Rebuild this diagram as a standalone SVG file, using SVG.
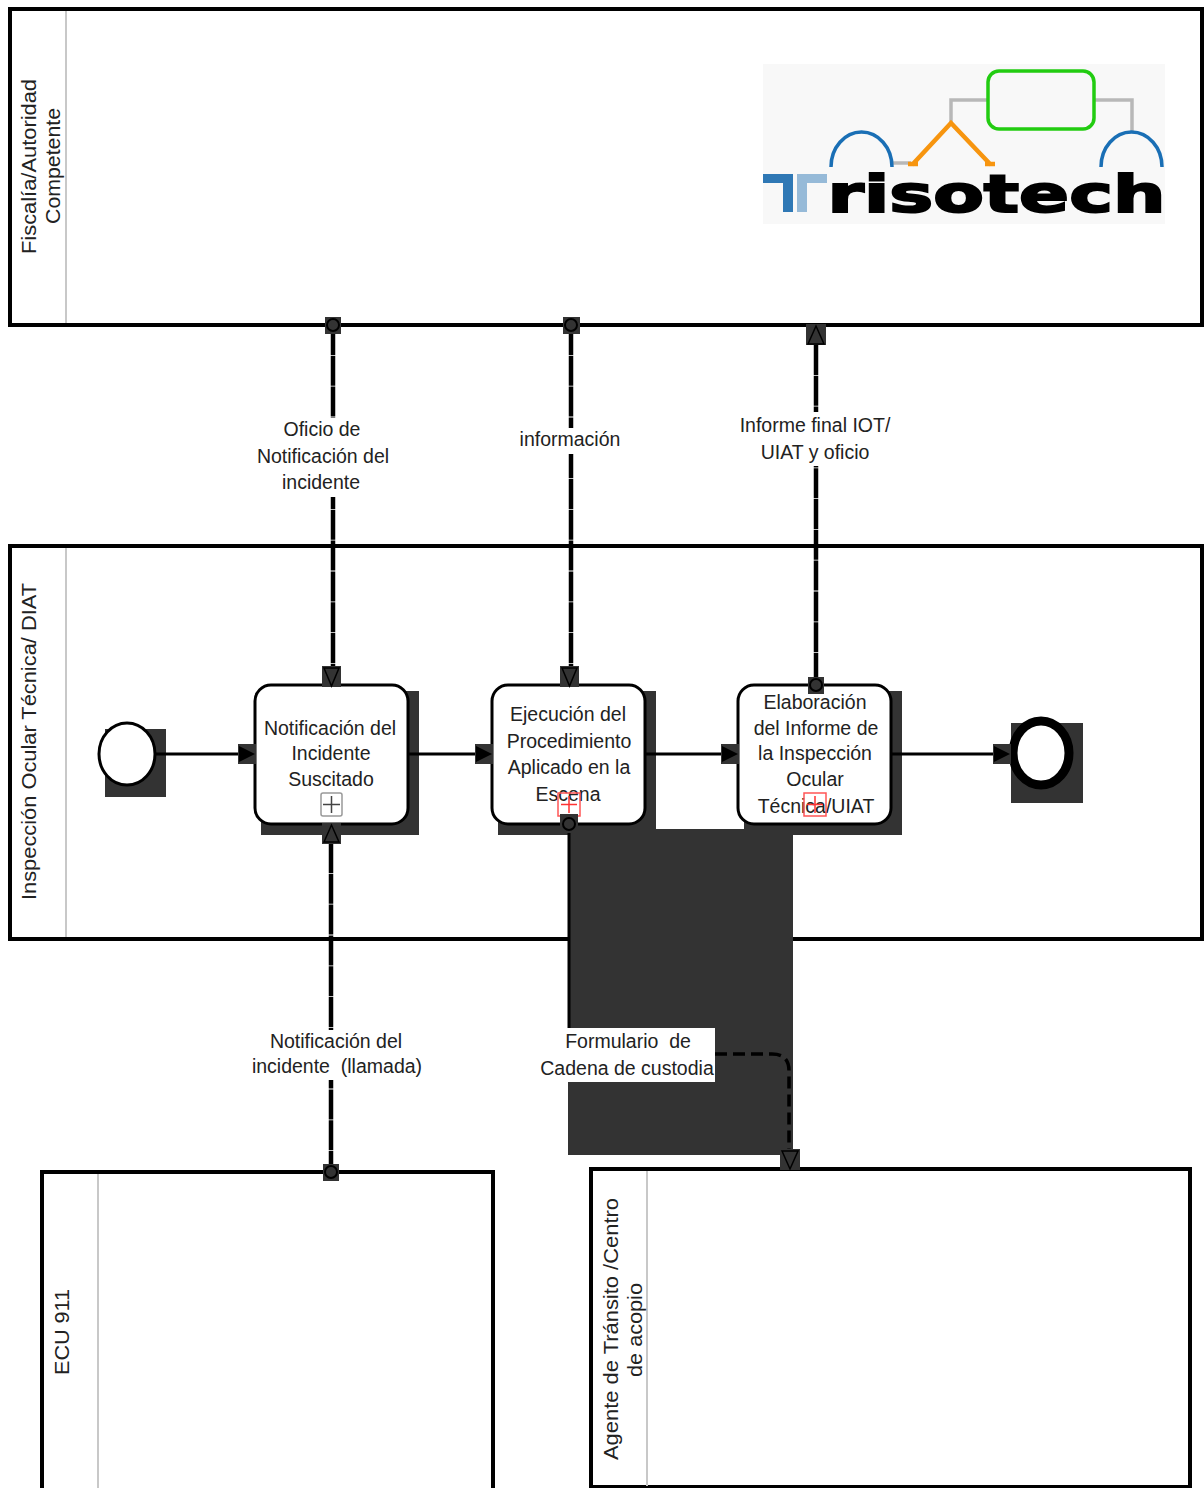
<svg xmlns="http://www.w3.org/2000/svg" width="1204" height="1488" viewBox="0 0 1204 1488">
<style>
text{font-family:"Liberation Sans",Arial,sans-serif;font-size:19.5px;fill:#222;text-anchor:middle}
.pool{fill:#fff;stroke:#000;stroke-width:4}
.div{stroke:#c8c8c8;stroke-width:2;fill:none}
.shadow{fill:#333}
.task{fill:#fff;stroke:#000;stroke-width:3}
.seq{stroke:#000;stroke-width:3;fill:none}
.msg{stroke:#000;stroke-width:4.5;fill:none;stroke-dasharray:30 0.8}
.dash{stroke:#000;stroke-width:3.5;fill:none;stroke-dasharray:12 6}
.box{fill:#333}
.tri{fill:none;stroke:#000;stroke-width:1.5}
.solid{fill:#000}
.dot{fill:#333;stroke:#000;stroke-width:2}
.exp{fill:none;stroke:#999;stroke-width:1.5}
.expr{fill:none;stroke:#f55;stroke-width:1.5}
.lg{fill:none;stroke-linecap:butt}
</style>
<rect width="1204" height="1488" fill="#fff"/>

<g id="pool-fiscalia">
<rect class="pool" x="10" y="9" width="1192" height="316"/>
<path class="div" d="M66 11V323"/>
<text transform="translate(36 166.500) rotate(-90)" textLength="175" lengthAdjust="spacingAndGlyphs">Fiscalía/Autoridad</text>
<text transform="translate(60 166) rotate(-90)" textLength="116" lengthAdjust="spacingAndGlyphs">Competente</text>
</g>

<g id="logo">
<rect x="763" y="64" width="402" height="160" fill="#f8f8f8"/>
<path class="lg" stroke="#b8b8b8" stroke-width="3.5" d="M988 100H951V122M1095 100H1132V131M892 163H911"/>
<rect x="988" y="71" width="106" height="58" rx="11" fill="none" stroke="#22cc11" stroke-width="3.5"/>
<path class="lg" stroke="#f7950f" stroke-width="4.5" d="M912 165L951 123L991 165M908 164H918M985 164H995"/>
<path class="lg" stroke="#1a6fb5" stroke-width="3.5" d="M831 167A30.500 35 0 0 1 892 167M1101 167A30.500 35 0 0 1 1162 167"/>
<path fill="#2f78b5" d="M763 174H793V212H783V183H763Z"/>
<path fill="#96bad8" d="M797 174H827V183H807V212H797Z"/>
<text x="996.500" y="212" textLength="338" lengthAdjust="spacingAndGlyphs" style="font-family:'DejaVu Sans',sans-serif;font-weight:bold;font-size:52px;fill:#000;stroke:#000;stroke-width:2">risotech</text>
</g>

<g id="pool-iot">
<rect class="pool" x="10" y="546" width="1192" height="393"/>
<path class="div" d="M66 548V937"/>
<text transform="translate(36 741.500) rotate(-90)" textLength="317" lengthAdjust="spacingAndGlyphs">Inspección Ocular Técnica/ DIAT</text>
</g>

<g id="pool-ecu">
<path class="pool" d="M42 1490V1172H493V1490"/>
<path class="div" d="M98 1174V1488"/>
<text transform="translate(69 1332) rotate(-90)" textLength="86" lengthAdjust="spacingAndGlyphs">ECU 911</text>
</g>

<g id="pool-agente">
<path class="pool" d="M591 1490V1169H1190V1487H591"/>
<path class="div" d="M647 1171V1486"/>
<text transform="translate(618 1329) rotate(-90)" textLength="262" lengthAdjust="spacingAndGlyphs">Agente de Tránsito /Centro</text>
<text transform="translate(642 1330) rotate(-90)" textLength="94" lengthAdjust="spacingAndGlyphs">de acopio</text>
</g>

<g id="shadow-block"><rect class="shadow" x="568" y="829" width="225" height="326"/></g>

<g id="start">
<rect class="shadow" x="105" y="729" width="61" height="68"/>
<ellipse cx="127" cy="754" rx="28" ry="31" fill="#fff" stroke="#000" stroke-width="3"/>
</g>

<g id="task-notificacion">
<rect class="shadow" x="261" y="691" width="158" height="144"/>
<rect class="task" x="255" y="685" width="153" height="139" rx="16"/>
<text x="330" y="735">Notificación del</text>
<text x="331" y="760">Incidente</text>
<text x="331" y="786">Suscitado</text>
<rect class="exp" x="321" y="793" width="21" height="23" rx="2"/>
<path d="M331.500 796V813M323 804.500H340" stroke="#444" stroke-width="1.500" fill="none"/>
</g>

<g id="task-ejecucion">
<rect class="shadow" x="498" y="691" width="158" height="144"/>
<rect class="task" x="492" y="685" width="153" height="139" rx="16"/>
<text x="568" y="721">Ejecución del</text>
<text x="569" y="748">Procedimiento</text>
<text x="569" y="774">Aplicado en la</text>
<text x="568" y="801">Escena</text>
<rect class="expr" x="558" y="793" width="22" height="23"/>
<path d="M569 796V813M561 804.500H577" stroke="#f33" stroke-width="1.500" fill="none"/>
</g>

<g id="task-elaboracion">
<rect class="shadow" x="744" y="691" width="158" height="144"/>
<rect class="task" x="738" y="685" width="153" height="139" rx="16"/>
<text x="815" y="709">Elaboración</text>
<text x="816" y="735">del Informe de</text>
<text x="815" y="760">la Inspección</text>
<text x="815" y="786">Ocular</text>
<text x="816" y="813">Técnica/UIAT</text>
<rect class="expr" x="804" y="793" width="22" height="23"/>
<path d="M815 796V813M807 804.500H823" stroke="#f33" stroke-width="1.500" fill="none"/>
</g>

<g id="end">
<rect class="shadow" x="1011" y="723" width="72" height="80"/>
<ellipse cx="1041" cy="753" rx="28" ry="32" fill="#fff" stroke="#000" stroke-width="9"/>
</g>

<g id="connectors">
<path class="seq" d="M155 754H240M408 754H477M645 754H723M891 754H995"/>
<g class="box"><rect x="238" y="744" width="18" height="20"/><rect x="475" y="744" width="18" height="20"/><rect x="721" y="744" width="18" height="20"/><rect x="993" y="744" width="18" height="20"/></g>
<path class="solid" d="M239 746L255 754L239 762ZM476 746L492 754L476 762ZM722 746L738 754L722 762ZM994 746L1010 754L994 762Z"/>

<path class="msg" d="M333 325V668"/>
<rect class="box" x="325" y="317" width="16" height="17"/><circle class="dot" cx="333" cy="325" r="6"/>
<rect class="box" x="322" y="666" width="19" height="21"/><path class="tri" d="M324 668L331.500 686L339 668Z"/>

<path class="msg" d="M571 325V668"/>
<rect class="box" x="563" y="317" width="17" height="17"/><circle class="dot" cx="571" cy="325" r="6"/>
<rect class="box" x="560" y="666" width="19" height="21"/><path class="tri" d="M562 668L569.500 686L577 668Z"/>

<path class="msg" d="M816 345V685"/>
<rect class="box" x="806" y="324" width="20" height="21"/><path class="tri" d="M808 344L816 326L824 344Z"/>
<rect class="box" x="808" y="677" width="16" height="17"/><circle class="dot" cx="816" cy="685" r="6"/>

<path class="msg" d="M331 843V1172"/>
<rect class="box" x="322" y="823" width="19" height="21"/><path class="tri" d="M324 842L331.500 825L339 842Z"/>
<rect class="box" x="323" y="1164" width="16" height="17"/><circle class="dot" cx="331" cy="1172" r="6"/>

<path d="M569 824V1030" stroke="#000" stroke-width="3" fill="none"/>
<rect class="box" x="560" y="814" width="18" height="19"/><circle class="dot" cx="569" cy="824" r="6"/>
<path class="dash" d="M715 1054H772Q789 1054 789 1071V1152"/>
<rect class="box" x="780" y="1149" width="20" height="21"/><path class="tri" d="M782 1151L790 1169L798 1151Z"/>
</g>

<g id="labels">
<rect x="255" y="418" width="135" height="79" fill="#fff"/>
<text x="322" y="436">Oficio de</text>
<text x="323" y="463">Notificación del</text>
<text x="321" y="489">incidente</text>
<rect x="515" y="428" width="108" height="26" fill="#fff"/>
<text x="570" y="446">información</text>
<rect x="738" y="412" width="155" height="54" fill="#fff"/>
<text x="815" y="432">Informe final IOT/</text>
<text x="815" y="459">UIAT y oficio</text>
<rect x="251" y="1030" width="172" height="50" fill="#fff"/>
<text x="336" y="1048">Notificación del</text>
<text x="337" y="1073" xml:space="preserve">incidente  (llamada)</text>
<rect x="537" y="1028" width="178" height="54" fill="#fff"/>
<text x="628" y="1048" xml:space="preserve">Formulario  de</text>
<text x="627" y="1075">Cadena de custodia</text>
</g>
</svg>
